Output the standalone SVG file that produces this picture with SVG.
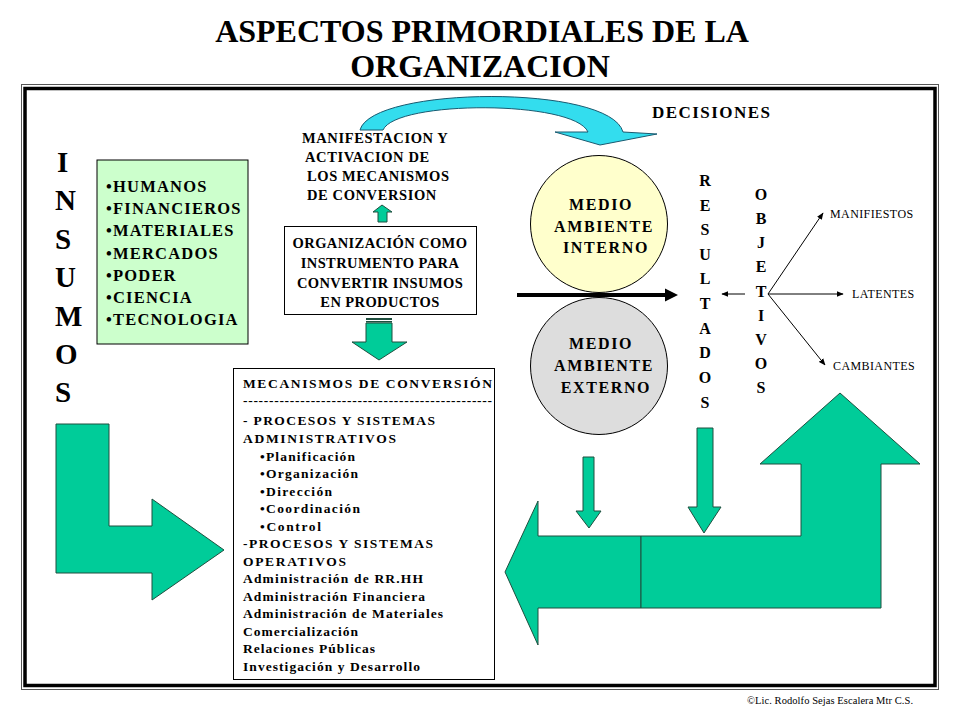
<svg xmlns="http://www.w3.org/2000/svg" width="960" height="720" viewBox="0 0 960 720" font-family="'Liberation Serif', serif">
<style>
.title{font-size:32px;font-weight:bold;text-anchor:middle}
.big{font-size:29px;font-weight:bold}
.lst{font-size:16.5px;font-weight:bold;letter-spacing:1.2px}
.med{font-size:14.5px;font-weight:bold;letter-spacing:0.6px}
.mech{font-size:13.5px;font-weight:bold}
.circ{font-size:16px;font-weight:bold;text-anchor:middle;letter-spacing:1.6px}
.vert{font-size:16px;font-weight:bold;text-anchor:middle}
.sm{font-size:12px;letter-spacing:0.4px}
.green{fill:#00CC99;stroke:#1f4f3f;stroke-width:1}
</style>
<defs>
<marker id="ah" viewBox="0 0 10 10" refX="9" refY="5" markerWidth="7" markerHeight="7" orient="auto" markerUnits="userSpaceOnUse">
<path d="M0,1 L10,5 L0,9 Z" fill="#000"/>
</marker>
</defs>
<rect width="960" height="720" fill="#fff"/>

<g id="title">
<text class="title" style="font-family:'Liberation Serif',serif" x="482" y="42">ASPECTOS PRIMORDIALES DE LA</text>
<text class="title" style="font-family:'Liberation Serif',serif" x="480" y="77">ORGANIZACION</text>
</g>

<g id="frame">
<rect x="21.5" y="84.5" width="917" height="605" fill="none" stroke="#555" stroke-width="1"/>
<rect x="25" y="88.5" width="910" height="597" fill="none" stroke="#000" stroke-width="3.5"/>
</g>

<g id="insumos">
<text class="big" style="font-family:'Liberation Serif',serif" x="57" y="172">I</text>
<text class="big" style="font-family:'Liberation Serif',serif" x="55" y="210">N</text>
<text class="big" style="font-family:'Liberation Serif',serif" x="55" y="249">S</text>
<text class="big" style="font-family:'Liberation Serif',serif" x="55" y="287">U</text>
<text class="big" style="font-family:'Liberation Serif',serif" x="55" y="326">M</text>
<text class="big" style="font-family:'Liberation Serif',serif" x="55" y="364">O</text>
<text class="big" style="font-family:'Liberation Serif',serif" x="55" y="402">S</text>
</g>

<g id="recursos">
<rect x="97" y="160" width="151" height="184" fill="#CCFFCC" stroke="#000" stroke-width="1"/>
<text class="lst" style="font-family:'Liberation Serif',serif" x="106" y="192">•HUMANOS</text>
<text class="lst" style="font-family:'Liberation Serif',serif" x="106" y="214">•FINANCIEROS</text>
<text class="lst" style="font-family:'Liberation Serif',serif" x="106" y="236">•MATERIALES</text>
<text class="lst" style="font-family:'Liberation Serif',serif" x="106" y="259">•MERCADOS</text>
<text class="lst" style="font-family:'Liberation Serif',serif" x="106" y="281">•PODER</text>
<text class="lst" style="font-family:'Liberation Serif',serif" x="106" y="303">•CIENCIA</text>
<text class="lst" style="font-family:'Liberation Serif',serif" x="106" y="325">•TECNOLOGIA</text>
</g>

<g id="manifestacion">
<text class="med" style="font-family:'Liberation Serif',serif" x="302" y="143">MANIFESTACION Y</text>
<text class="med" style="font-family:'Liberation Serif',serif" x="305" y="162">ACTIVACION DE</text>
<text class="med" style="font-family:'Liberation Serif',serif" x="307" y="181">LOS MECANISMOS</text>
<text class="med" style="font-family:'Liberation Serif',serif" x="307" y="200">DE CONVERSION</text>
</g>

<g id="decisiones">
<text style="font-family:'Liberation Serif',serif;font-weight:bold;font-size:17px" x="652" y="118" textLength="118" lengthAdjust="spacing">DECISIONES</text>
</g>

<g id="organizacion">
<rect x="284.5" y="226.5" width="192" height="88" fill="#fff" stroke="#000" stroke-width="1"/>
<text class="med" style="font-family:'Liberation Serif',serif;letter-spacing:0.4px" x="380" y="248" text-anchor="middle">ORGANIZACIÓN COMO</text>
<text class="med" style="font-family:'Liberation Serif',serif;letter-spacing:0.4px" x="380" y="268" text-anchor="middle">INSTRUMENTO PARA</text>
<text class="med" style="font-family:'Liberation Serif',serif;letter-spacing:0.4px" x="380" y="288" text-anchor="middle">CONVERTIR INSUMOS</text>
<text class="med" style="font-family:'Liberation Serif',serif;letter-spacing:0.4px" x="380" y="307" text-anchor="middle">EN PRODUCTOS</text>
</g>

<g id="mecanismos">
<rect x="233.5" y="368.5" width="261" height="311" fill="#fff" stroke="#000" stroke-width="1"/>
<text class="mech" style="font-family:'Liberation Serif',serif" x="243" y="388" textLength="249" lengthAdjust="spacing">MECANISMOS DE CONVERSIÓN</text>
<text class="mech" style="font-family:'Liberation Serif',serif" x="243" y="405" textLength="249" lengthAdjust="spacing">------------------------------------------------</text>
<text class="mech" style="font-family:'Liberation Serif',serif" x="243" y="425" textLength="192" lengthAdjust="spacing">- PROCESOS Y SISTEMAS</text>
<text class="mech" style="font-family:'Liberation Serif',serif" x="243" y="443" textLength="153" lengthAdjust="spacing">ADMINISTRATIVOS</text>
<text class="mech" style="font-family:'Liberation Serif',serif" x="260" y="461" textLength="95" lengthAdjust="spacing">•Planificación</text>
<text class="mech" style="font-family:'Liberation Serif',serif" x="260" y="478" textLength="98" lengthAdjust="spacing">•Organización</text>
<text class="mech" style="font-family:'Liberation Serif',serif" x="260" y="496" textLength="72" lengthAdjust="spacing">•Dirección</text>
<text class="mech" style="font-family:'Liberation Serif',serif" x="260" y="513" textLength="100" lengthAdjust="spacing">•Coordinación</text>
<text class="mech" style="font-family:'Liberation Serif',serif" x="260" y="531" textLength="61" lengthAdjust="spacing">•Control</text>
<text class="mech" style="font-family:'Liberation Serif',serif" x="243" y="548" textLength="190" lengthAdjust="spacing">-PROCESOS Y SISTEMAS</text>
<text class="mech" style="font-family:'Liberation Serif',serif" x="243" y="566" textLength="103" lengthAdjust="spacing">OPERATIVOS</text>
<text class="mech" style="font-family:'Liberation Serif',serif" x="243" y="583" textLength="180" lengthAdjust="spacing">Administración de RR.HH</text>
<text class="mech" style="font-family:'Liberation Serif',serif" x="243" y="601" textLength="182" lengthAdjust="spacing">Administración Financiera</text>
<text class="mech" style="font-family:'Liberation Serif',serif" x="243" y="618" textLength="200" lengthAdjust="spacing">Administración de Materiales</text>
<text class="mech" style="font-family:'Liberation Serif',serif" x="243" y="636" textLength="115" lengthAdjust="spacing">Comercialización</text>
<text class="mech" style="font-family:'Liberation Serif',serif" x="243" y="653" textLength="132" lengthAdjust="spacing">Relaciones Públicas</text>
<text class="mech" style="font-family:'Liberation Serif',serif" x="243" y="671" textLength="177" lengthAdjust="spacing">Investigación y Desarrollo</text>
</g>

<g id="interno">
<circle cx="599" cy="224" r="68.5" fill="#FFFFCC" stroke="#000" stroke-width="1"/>
<text class="circ" style="font-family:'Liberation Serif',serif" x="601" y="210">MEDIO</text>
<text class="circ" style="font-family:'Liberation Serif',serif" x="604" y="232">AMBIENTE</text>
<text class="circ" style="font-family:'Liberation Serif',serif" x="606" y="253">INTERNO</text>
</g>

<g id="externo">
<circle cx="599" cy="366" r="68.5" fill="#DDDDDD" stroke="#000" stroke-width="1"/>
<text class="circ" style="font-family:'Liberation Serif',serif" x="601" y="349">MEDIO</text>
<text class="circ" style="font-family:'Liberation Serif',serif" x="604" y="371">AMBIENTE</text>
<text class="circ" style="font-family:'Liberation Serif',serif" x="606" y="393">EXTERNO</text>
</g>

<g id="resultados">
<text class="vert" style="font-family:'Liberation Serif',serif" x="705" y="186">R</text>
<text class="vert" style="font-family:'Liberation Serif',serif" x="705" y="211">E</text>
<text class="vert" style="font-family:'Liberation Serif',serif" x="705" y="235">S</text>
<text class="vert" style="font-family:'Liberation Serif',serif" x="705" y="260">U</text>
<text class="vert" style="font-family:'Liberation Serif',serif" x="705" y="284">L</text>
<text class="vert" style="font-family:'Liberation Serif',serif" x="705" y="309">T</text>
<text class="vert" style="font-family:'Liberation Serif',serif" x="705" y="334">A</text>
<text class="vert" style="font-family:'Liberation Serif',serif" x="705" y="358">D</text>
<text class="vert" style="font-family:'Liberation Serif',serif" x="705" y="383">O</text>
<text class="vert" style="font-family:'Liberation Serif',serif" x="705" y="408">S</text>
</g>

<g id="objetivos">
<text class="vert" style="font-family:'Liberation Serif',serif" x="761" y="200">O</text>
<text class="vert" style="font-family:'Liberation Serif',serif" x="761" y="224">B</text>
<text class="vert" style="font-family:'Liberation Serif',serif" x="761" y="248">J</text>
<text class="vert" style="font-family:'Liberation Serif',serif" x="761" y="272">E</text>
<text class="vert" style="font-family:'Liberation Serif',serif" x="761" y="297">T</text>
<text class="vert" style="font-family:'Liberation Serif',serif" x="761" y="321">I</text>
<text class="vert" style="font-family:'Liberation Serif',serif" x="761" y="345">V</text>
<text class="vert" style="font-family:'Liberation Serif',serif" x="761" y="369">O</text>
<text class="vert" style="font-family:'Liberation Serif',serif" x="761" y="393">S</text>
</g>

<g id="tipos">
<text class="sm" style="font-family:'Liberation Serif',serif" x="830" y="218">MANIFIESTOS</text>
<text class="sm" style="font-family:'Liberation Serif',serif" x="852" y="298">LATENTES</text>
<text class="sm" style="font-family:'Liberation Serif',serif" x="833" y="370">CAMBIANTES</text>
</g>

<g id="footer">
<text style="font-family:'Liberation Serif',serif;font-size:10.5px" x="747" y="704" textLength="166" lengthAdjust="spacing">©Lic. Rodolfo Sejas Escalera Mtr C.S.</text>
</g>

<g id="connectors">
<path d="M360,130 C372,86 610,84 623,132 L657,134 L600,145 L555,132 L588,132 C574,100 396,100 383,130 Z" fill="#33DDEE" stroke="#1a5a70" stroke-width="1"/>
<path class="green" d="M382,205 L392,212 L387,212 L387,222 L378,222 L378,212 L373,212 Z"/>
<rect x="366" y="318" width="26" height="2" fill="#1f4f3f"/>
<rect x="366" y="321" width="26" height="1.5" fill="#1f4f3f"/>
<path class="green" d="M366,323 L392,323 L392,342 L407,342 L379,360 L352,342 L366,342 Z"/>
<line x1="517" y1="295" x2="666" y2="295" stroke="#000" stroke-width="4"/>
<path d="M665,288.5 L678,295 L665,301.5 Z" fill="#000"/>
<line x1="745" y1="294" x2="722" y2="294" stroke="#000" stroke-width="1" marker-end="url(#ah)"/>
<line x1="768" y1="294" x2="823" y2="213" stroke="#000" stroke-width="1" marker-end="url(#ah)"/>
<line x1="768" y1="294" x2="843" y2="294" stroke="#000" stroke-width="1" marker-end="url(#ah)"/>
<line x1="768" y1="294" x2="825" y2="365" stroke="#000" stroke-width="1" marker-end="url(#ah)"/>
<path class="green" d="M56,424 L109,424 L109,526 L152,526 L152,499 L224,550 L152,600 L152,573 L56,573 Z"/>
<path class="green" d="M583,457 L594,457 L594,511 L601,511 L589,528 L576,511 L583,511 Z"/>
<path class="green" d="M697,428 L713,428 L713,507 L721,507 L704,533 L688,507 L697,507 Z"/>
<path class="green" d="M505,572 L538,501 L538,536 L641,536 L641,608 L538,608 L538,645 Z"/>
<path class="green" d="M641,536 L801,536 L801,464 L760,464 L840,393 L920,464 L881,464 L881,608 L641,608 Z"/>
</g>
</svg>
